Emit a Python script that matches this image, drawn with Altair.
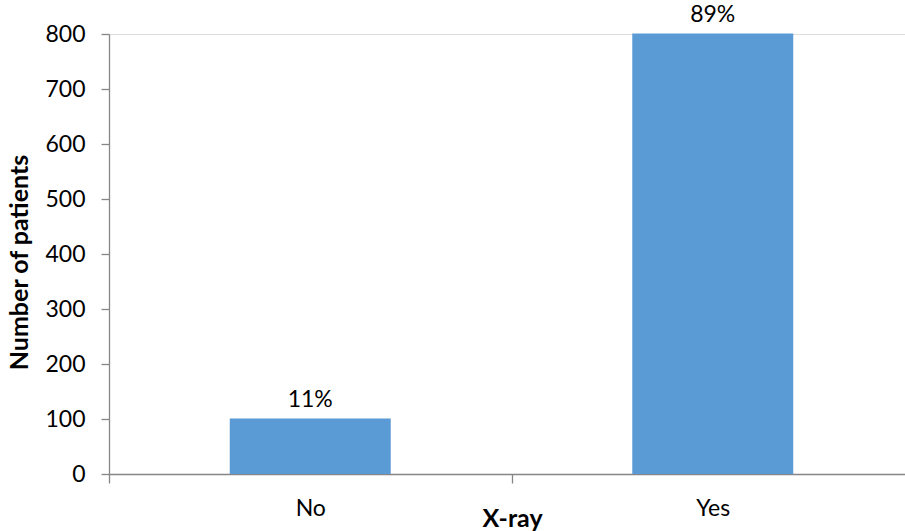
import altair as alt
import pandas as pd

# X-ray status, patient counts and share of the total
categories = ["No", "Yes"]
patients = [101, 801]
shares = ["11%", "89%"]

df = pd.DataFrame({"xray": categories, "patients": patients, "share": shares})

FONT = "Lato"
AXIS_GRAY = "#868686"
BAR_BLUE = "#5B9BD5"

# Category bands run a little past the right edge of the drawing
x_scale = alt.Scale(paddingInner=0, paddingOuter=0, range=[0, 805])

x_enc = alt.X(
    "xray:N",
    sort=categories,
    scale=x_scale,
    axis=alt.Axis(
        title="X-ray",
        titleFont=FONT,
        titleFontSize=25,
        titleFontWeight="bold",
        titleColor="black",
        titlePadding=-14,
        titleX=403,
        labelFont=FONT,
        labelFontSize=23,
        labelColor="black",
        labelPadding=14,
        labelAngle=0,
        tickBand="extent",
        tickSize=9,
        tickColor=AXIS_GRAY,
        tickWidth=1.3,
        domainColor=AXIS_GRAY,
        domainWidth=1.3,
    ),
)

y_enc = alt.Y(
    "patients:Q",
    scale=alt.Scale(domain=[0, 800], nice=False),
    axis=alt.Axis(
        title="Number of patients",
        titleFont=FONT,
        titleFontSize=25,
        titleFontWeight="bold",
        titleColor="black",
        titlePadding=12,
        titleY=228,
        labelFont=FONT,
        labelFontSize=23,
        labelColor="black",
        labelPadding=16,
        values=list(range(0, 801, 100)),
        tickSize=8,
        tickColor=AXIS_GRAY,
        domainColor=AXIS_GRAY,
        domainWidth=1.3,
        tickWidth=1.3,
        grid=False,
    ),
)

bars = alt.Chart(df).mark_bar(color=BAR_BLUE, size=161).encode(x=x_enc, y=y_enc)

labels = alt.Chart(df).mark_text(
    font=FONT, fontSize=23, color="black", baseline="bottom", dy=-6
).encode(
    x=alt.X("xray:N", sort=categories),
    y="patients:Q",
    text="share:N",
)

chart = (
    alt.layer(bars, labels)
    .properties(
        width=796,
        height=440,
        autosize=alt.AutoSizeParams(type="none"),
        padding={"left": 109, "top": 34, "right": 0, "bottom": 57},
    )
    .configure_view(strokeWidth=0, stroke="transparent")
    .configure(background="white")
)

chart.save("out.html", embed_options={"renderer": "svg", "actions": False})
